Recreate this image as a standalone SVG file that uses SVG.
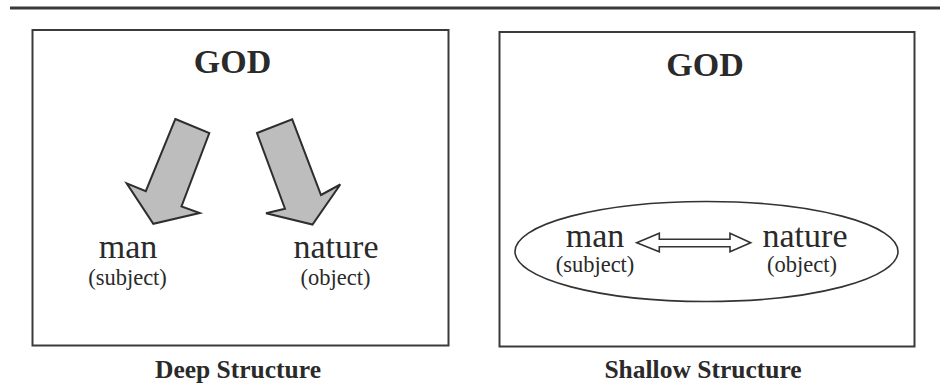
<svg xmlns="http://www.w3.org/2000/svg" width="940" height="386" viewBox="0 0 940 386">
<style>
.frame{fill:none;stroke:#3a3a3a;stroke-width:2}
.t{font-family:"Liberation Serif","Times New Roman",serif;fill:#2a2a2a;text-anchor:middle}
.god{font-size:34px;font-weight:bold}
.big{font-size:34px}
.small{font-size:22.5px}
.cap{font-size:25.5px;font-weight:bold}
.fat{fill:#bdbdbd;stroke:#2e2e2e;stroke-width:2;stroke-linejoin:miter}
.dbl{fill:#ffffff;stroke:#333333;stroke-width:1.6;stroke-linejoin:miter}
</style>
<rect width="940" height="386" fill="#ffffff"/>
<line x1="10" y1="8" x2="940" y2="8" stroke="#3a3a3a" stroke-width="3"/>

<g id="deep-box">
<rect class="frame" x="32.5" y="30" width="416" height="315.5"/>
<text class="t cap" x="238" y="378">Deep Structure</text>
</g>
<g id="deep-god">
<text class="t god" x="232.5" y="73">GOD</text>
</g>
<g id="deep-man">
<text class="t big" x="128" y="258">man</text>
<text class="t small" x="127.5" y="285">(subject)</text>
</g>
<g id="deep-nature">
<text class="t big" x="336" y="258">nature</text>
<text class="t small" x="335.5" y="285">(object)</text>
</g>

<g id="shallow-box">
<rect class="frame" x="499.5" y="32" width="415" height="314.5"/>
<text class="t cap" x="703" y="378">Shallow Structure</text>
</g>
<g id="shallow-god">
<text class="t god" x="705" y="76">GOD</text>
</g>
<g id="shallow-ellipse">
<ellipse cx="706.5" cy="251.5" rx="191.5" ry="50" fill="none" stroke="#333333" stroke-width="1.6"/>
</g>
<g id="shallow-man">
<text class="t big" x="595" y="247">man</text>
<text class="t small" x="595" y="272">(subject)</text>
</g>
<g id="shallow-nature">
<text class="t big" x="805" y="247">nature</text>
<text class="t small" x="802" y="272">(object)</text>
</g>

<g id="connectors">
<polygon class="fat" points="175.3,119 209.3,133 181.5,206.5 199.7,213 153.3,223.8 126.7,183.3 145.8,191.2"/>
<polygon class="fat" points="257,133 292.2,119.3 321,195 340.3,184.5 312.5,224.5 266,213.3 285,208.7"/>
<polygon class="dbl" points="636.7,242.7 659.3,233.3 659.3,239.3 730,239.3 730,233.3 750.7,242.7 730,251.7 730,246.7 659.3,246.7 659.3,251.7"/>
</g>
</svg>
